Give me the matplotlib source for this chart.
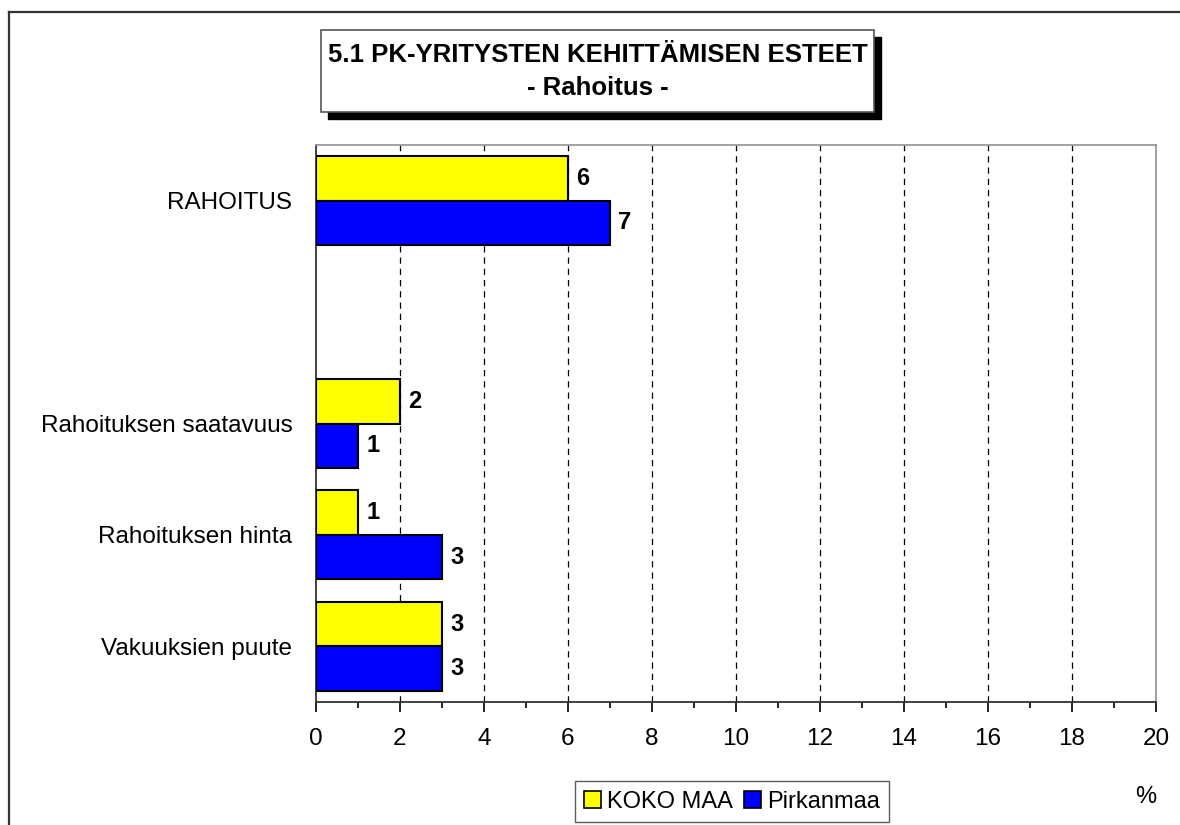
import matplotlib
matplotlib.use("Agg")
import matplotlib.pyplot as plt
from matplotlib.lines import Line2D
from matplotlib.patches import Rectangle, Patch
import numpy as np

plt.rcParams['font.family'] = ['Liberation Sans', 'DejaVu Sans']

categories = ["RAHOITUS", "", "Rahoituksen saatavuus", "Rahoituksen hinta", "Vakuuksien puute"]
koko_maa = [6, None, 2, 1, 3]
pirkanmaa = [7, None, 1, 3, 3]
series_names = ["KOKO MAA", "Pirkanmaa"]
xticks = [0, 2, 4, 6, 8, 10, 12, 14, 16, 18, 20]
title_line1 = "5.1 PK-YRITYSTEN KEHITTÄMISEN ESTEET"
title_line2 = "- Rahoitus -"

W, H = 1180, 825
fig = plt.figure(figsize=(W / 100, H / 100), dpi=100)

def fx(px):
    return px / W

def fy(py):
    return 1 - py / H

ax = fig.add_axes([fx(316), fy(702), fx(1156) - fx(316), fy(145) - fy(702)])

pos = np.arange(len(categories))
bh = 0.4
for i, (a, b) in enumerate(zip(koko_maa, pirkanmaa)):
    if a is not None:
        ax.barh(pos[i] - bh / 2, a, height=bh, color="#FFFF00", edgecolor="black", linewidth=1.5, zorder=3)
        ax.text(a + 0.2, pos[i] - bh / 2, str(a), va="center", ha="left", fontsize=17, fontweight="bold", zorder=4)
    if b is not None:
        ax.barh(pos[i] + bh / 2, b, height=bh, color="#0000FF", edgecolor="black", linewidth=1.5, zorder=3)
        ax.text(b + 0.2, pos[i] + bh / 2, str(b), va="center", ha="left", fontsize=17, fontweight="bold", zorder=4)

ax.set_xlim(0, 20)
ax.set_ylim(len(categories) - 0.5, -0.5)
ax.set_yticks(pos)
ax.set_yticklabels(categories, fontsize=17.5)
ax.tick_params(axis="y", length=0, pad=17)
ax.set_xticks(xticks)
ax.set_xticklabels([str(t) for t in xticks], fontsize=17.5)
ax.set_xticks(np.arange(1, 20, 2), minor=True)
ax.tick_params(axis="x", which="major", direction="out", length=7, width=1.2, pad=12)
ax.tick_params(axis="x", which="minor", direction="out", length=4, width=1.2)

for t in xticks[1:-1]:
    ax.axvline(t, color="black", linestyle=(0, (5, 4)), linewidth=0.9, zorder=1)

ax.spines["left"].set_color("#333333")
ax.spines["left"].set_linewidth(1.3)
ax.spines["bottom"].set_color("#333333")
ax.spines["bottom"].set_linewidth(1.3)
ax.spines["top"].set_color("#999999")
ax.spines["top"].set_linewidth(1.3)
ax.spines["right"].set_color("#999999")
ax.spines["right"].set_linewidth(1.3)

# figure border (left and top)
fig.add_artist(Line2D([fx(8.5), fx(8.5)], [0, fy(12)], color="#333333", linewidth=1.6))
fig.add_artist(Line2D([fx(8.5), 1], [fy(12), fy(12)], color="#333333", linewidth=1.6))

# title box with shadow
bx0, bx1, by0, by1 = 321, 874, 30, 112
sh = 7
fig.add_artist(Rectangle((fx(bx0 + sh), fy(by1 + sh)), fx(bx1) - fx(bx0), fy(by0) - fy(by1),
                         facecolor="black", edgecolor="black", zorder=5))
fig.add_artist(Rectangle((fx(bx0), fy(by1)), fx(bx1) - fx(bx0), fy(by0) - fy(by1),
                         facecolor="white", edgecolor="#555555", linewidth=1.2, zorder=6))
fig.text(fx((bx0 + bx1) / 2), fy(55), title_line1, ha="center", va="center",
         fontsize=18.5, fontweight="bold", zorder=7)
fig.text(fx((bx0 + bx1) / 2), fy(88), title_line2, ha="center", va="center",
         fontsize=18.5, fontweight="bold", zorder=7)

# legend
handles = [Patch(facecolor="#FFFF00", edgecolor="black", linewidth=1.2),
           Patch(facecolor="#0000FF", edgecolor="black", linewidth=1.2)]
leg = fig.legend(handles, series_names, loc="center", bbox_to_anchor=(fx(732), fy(801.5)),
                 ncol=2, fontsize=17, frameon=True, fancybox=False, edgecolor="#333333",
                 handlelength=0.7, handleheight=0.7, handletextpad=0.25, columnspacing=0.5,
                 borderpad=0.4, borderaxespad=0)
leg.get_frame().set_linewidth(1.0)

fig.text(fx(1146), fy(797), "%", ha="center", va="center", fontsize=17)

fig.savefig("out.png", dpi=100, facecolor="white")
